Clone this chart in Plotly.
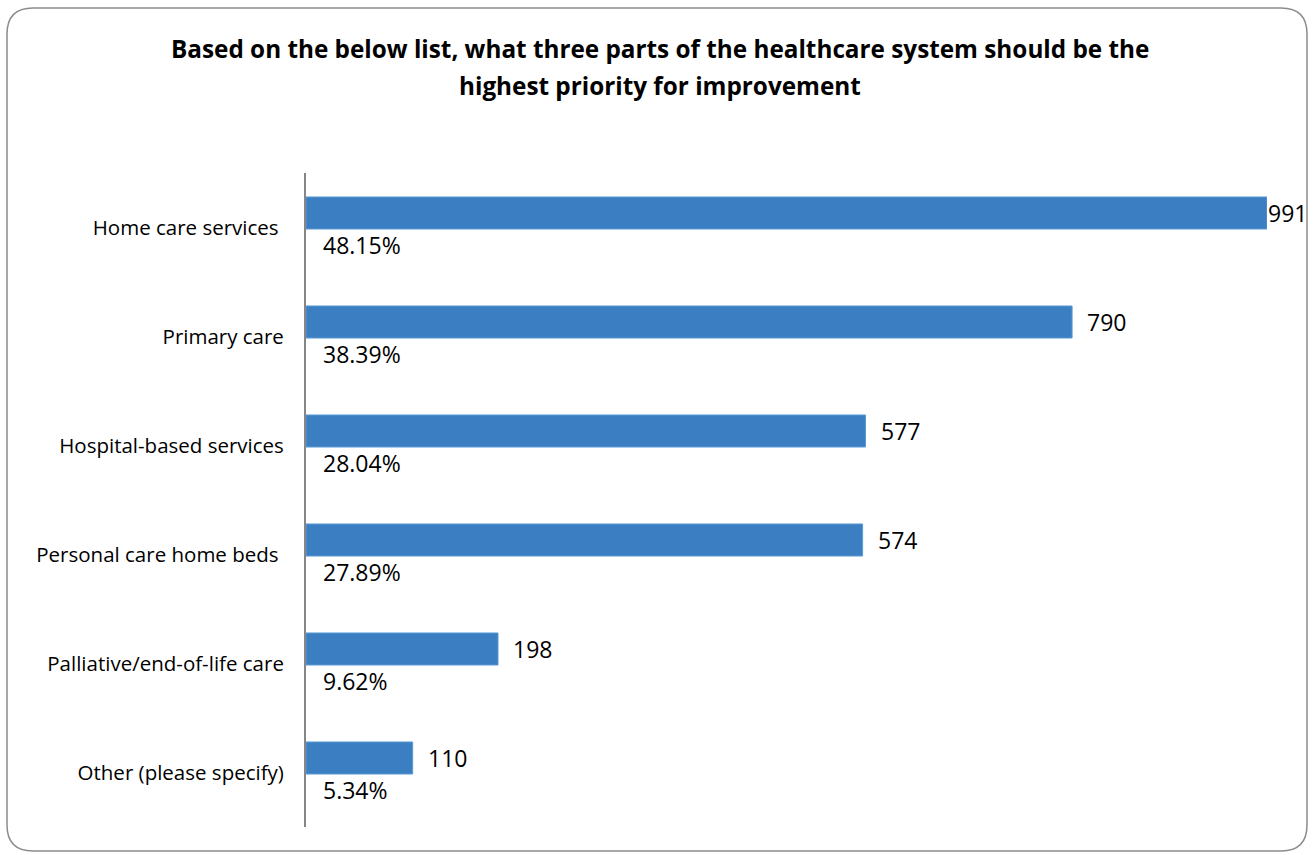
import plotly.graph_objects as go

categories = ["Home care services ", "Primary care", "Hospital-based services",
              "Personal care home beds ", "Palliative/end-of-life care", "Other (please specify)"]
counts = [991, 790, 577, 574, 198, 110]
percents = ["48.15%", "38.39%", "28.04%", "27.89%", "9.62%", "5.34%"]
title_lines = ["Based on the below list, what three parts of the healthcare system should be the",
               "highest priority for improvement"]

W, H = 1315, 855
L, R, T, B = 306, 1267, 173, 827
FONT = "Open Sans"

def px(x):
    return (x - L) / (R - L)

def py(y):
    return (B - y) / (B - T)

pos = list(range(len(categories)))
BAR_OFF = -0.28
BAR_W = 0.294

fig = go.Figure()
fig.add_trace(go.Bar(
    x=counts, y=pos, orientation="h",
    offset=BAR_OFF, width=BAR_W,
    marker=dict(color="#3B7FC2", line=dict(color="#5B9BD5", width=1)),
    hoverinfo="skip",
))

annotations = []
vmax = max(counts)
for i, (c, p) in enumerate(zip(counts, percents)):
    annotations.append(dict(
        x=c, y=i + BAR_OFF + BAR_W / 2, xref="x", yref="y", text=str(c),
        showarrow=False, xanchor="left", yanchor="middle",
        xshift=-1 if c == vmax else 13,
        font=dict(family=FONT, size=23, color="#000000")))
    annotations.append(dict(
        x=0, y=i + 0.16, xref="x", yref="y", text=p,
        showarrow=False, xanchor="left", yanchor="middle", xshift=15,
        font=dict(family=FONT, size=23, color="#000000")))

for k, (line, yc) in enumerate(zip(title_lines, [48, 85])):
    annotations.append(dict(
        x=px(660), y=py(yc), xref="paper", yref="paper", text="<b>" + line + "</b>",
        showarrow=False, xanchor="center", yanchor="middle",
        font=dict(family=FONT, size=24.3, color="#000000")))

# rounded border
x0, y0, x1, y1, r = 7, 8, 1307, 851, 26
path = (f"M {px(x0+r)},{py(y0)} L {px(x1-r)},{py(y0)} "
        f"Q {px(x1)},{py(y0)} {px(x1)},{py(y0+r)} "
        f"L {px(x1)},{py(y1-r)} Q {px(x1)},{py(y1)} {px(x1-r)},{py(y1)} "
        f"L {px(x0+r)},{py(y1)} Q {px(x0)},{py(y1)} {px(x0)},{py(y1-r)} "
        f"L {px(x0)},{py(y0+r)} Q {px(x0)},{py(y0)} {px(x0+r)},{py(y0)} Z")

fig.update_layout(
    width=W, height=H,
    margin=dict(l=L, r=W - R, t=T, b=H - B, pad=0),
    paper_bgcolor="#FFFFFF", plot_bgcolor="#FFFFFF",
    showlegend=False,
    annotations=annotations,
    shapes=[dict(type="path", path=path, xref="paper", yref="paper",
                 line=dict(color="#8C8C8C", width=1.5), layer="below")],
    xaxis=dict(range=[0, 991], showgrid=False, zeroline=False, showticklabels=False,
               showline=False, ticks=""),
    yaxis=dict(range=[5.5, -0.5], tickmode="array", tickvals=pos, ticktext=categories,
               showgrid=False, zeroline=False, showline=True, linecolor="#868686",
               linewidth=2, ticks="", ticklabelstandoff=16,
               tickfont=dict(family=FONT, size=20.5, color="#000000")),
)

fig.write_html("out.html", config={"displayModeBar": False},
               post_script="document.body.style.margin='0';")
